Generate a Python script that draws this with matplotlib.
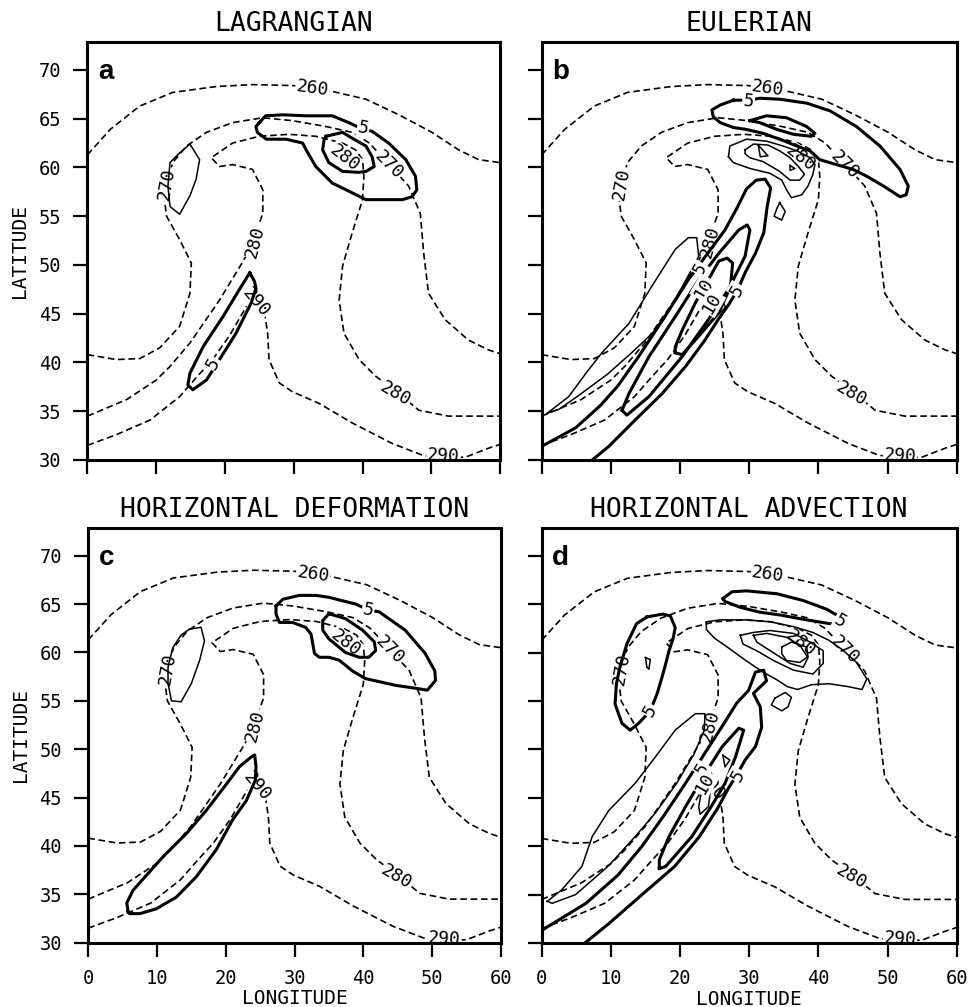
import matplotlib
matplotlib.use("Agg")
import matplotlib.pyplot as plt

plt.rcParams['font.family'] = ['DejaVu Sans Mono']

# ---------------- potential temperature contours (same in every panel), (lon, lat)
theta_260 = [(0.0, 61.3), (3.3, 63.9), (7.6, 66.3), (12.4, 67.7), (18.7, 68.3), (24.0, 68.5),
             (29.8, 68.4), (32.5, 68.2), (35.6, 67.8), (40.5, 67.0), (45.3, 65.4), (50.1, 63.6),
             (54.0, 61.8), (56.9, 60.8), (60.0, 60.5)]
theta_270 = [(0.0, 40.8), (4.2, 40.3), (7.6, 40.4), (10.5, 41.5), (13.4, 43.7), (14.9, 47.1),
             (15.1, 50.2), (13.4, 52.6), (11.5, 55.0), (11.2, 56.7), (11.6, 58.5), (12.4, 60.5),
             (14.4, 62.2), (17.3, 63.6), (21.1, 64.6), (25.5, 65.1), (29.8, 64.8), (34.7, 64.2),
             (38.5, 63.6), (41.0, 62.5), (44.0, 60.2), (46.7, 58.1), (48.4, 55.3), (48.9, 51.2),
             (49.6, 47.1), (52.0, 44.4), (55.4, 42.3), (58.3, 41.3), (60.0, 40.9)]
theta_280 = [(0.0, 34.5), (5.7, 36.2), (10.0, 38.2), (12.0, 39.6), (14.9, 42.0), (19.2, 46.4),
             (22.3, 50.0), (23.6, 51.6), (24.6, 53.5), (25.5, 55.3), (25.5, 57.7), (24.0, 59.8),
             (21.1, 60.3), (19.2, 60.1), (18.0, 61.0), (21.1, 62.5), (25.0, 63.2), (29.3, 63.4),
             (33.2, 63.2), (37.1, 62.5), (39.0, 61.8), (40.0, 60.8), (40.2, 59.1), (40.0, 56.7),
             (38.5, 53.3), (37.1, 49.9), (36.6, 46.4), (37.3, 43.0), (39.5, 40.3), (41.9, 38.6),
             (45.3, 36.8), (48.2, 35.1), (52.5, 34.5), (58.3, 34.5), (60.0, 34.5)]
theta_290 = [(0.0, 31.5), (4.2, 32.6), (9.1, 34.1), (13.4, 36.5), (16.0, 38.6), (18.2, 40.3),
             (20.7, 42.8), (22.5, 45.0), (23.8, 46.6), (25.6, 45.8), (26.2, 43.0), (26.4, 40.3),
             (27.9, 37.9), (29.8, 37.0), (33.7, 35.8), (38.5, 33.8), (44.3, 31.7), (48.7, 30.5),
             (51.5, 30.2), (55.0, 30.3), (58.3, 31.2), (60.0, 31.6)]
theta_lines = [theta_260, theta_270, theta_280, theta_290]
# label text, lon, lat, angle
theta_labels = [('260', 32.7, 68.1, -8), ('270', 11.5, 58.3, 80), ('270', 43.8, 60.3, -45),
                ('280', 24.3, 52.4, 75), ('280', 37.4, 61.0, -38), ('280', 44.8, 36.8, -30),
                ('290', 51.8, 30.4, -3), ('290', 24.5, 46.2, -50)]

# ---------------- frontogenesis contours, panel a (Lagrangian)
a_thick_top = [(25.0, 64.6), (25.9, 65.3), (28.4, 65.4), (31.8, 65.3), (35.6, 65.3), (38.0, 64.6),
               (39.5, 64.1), (41.4, 63.7), (43.8, 62.5), (46.3, 60.8), (47.7, 59.1), (47.9, 57.7),
               (47.2, 57.0), (45.8, 56.7), (42.9, 56.7), (40.5, 56.7), (38.5, 57.4), (35.6, 58.4),
               (33.2, 60.1), (31.8, 61.8), (31.3, 62.5), (28.9, 62.9), (26.0, 62.9), (24.7, 63.6),
               (24.5, 64.2), (25.0, 64.6)]
a_thick_inner = [(34.7, 63.2), (37.1, 63.6), (38.5, 63.0), (40.5, 62.2), (41.4, 61.1), (41.7, 60.1),
                 (40.5, 59.6), (39.5, 59.5), (37.1, 59.6), (35.1, 60.5), (34.2, 61.8), (34.4, 62.8),
                 (34.7, 63.2)]
a_thin_west = [(14.9, 62.4), (16.3, 60.8), (15.8, 58.8), (14.9, 57.1), (13.4, 55.2), (12.0, 56.0),
               (11.7, 58.1), (12.0, 60.5), (13.4, 61.5), (14.9, 62.4)]
a_thick_front = [(23.6, 49.2), (24.3, 48.3), (24.5, 47.6), (23.8, 46.1), (21.6, 43.0), (19.2, 40.3),
                 (17.3, 38.2), (15.3, 37.2), (14.6, 37.7), (14.9, 38.9), (16.8, 41.6), (19.7, 44.7),
                 (22.1, 47.5), (23.6, 49.2)]
a_thick = [a_thick_top, a_thick_inner, a_thick_front]
a_thin = [a_thin_west]
a_labels = [('5', 40.1, 64.0, -12), ('5', 18.2, 39.9, 60)]

# ---------------- panel b (Eulerian)
b_thick_top = [(27.7, 66.9), (25.8, 66.4), (24.6, 65.9), (24.8, 65.2), (25.8, 64.6), (27.7, 64.1),
               (29.6, 63.9), (32.0, 63.5), (34.4, 62.9), (36.9, 62.2), (38.8, 61.7), (40.2, 60.8),
               (42.6, 60.3), (45.0, 59.8), (47.0, 59.1), (49.4, 58.1), (51.8, 57.0), (52.7, 57.2),
               (53.0, 58.1), (51.8, 59.8), (48.9, 62.2), (45.5, 64.2), (41.7, 65.8), (38.3, 66.6),
               (34.4, 67.0), (31.5, 67.1), (29.9, 66.9), (27.7, 66.9)]
b_thick_top_inner = [(30.1, 64.8), (32.5, 65.3), (35.4, 65.1), (38.3, 64.2), (39.5, 63.5), (39.0, 63.2),
                     (36.4, 63.4), (34.0, 63.9), (31.5, 64.6), (30.1, 64.8)]
b_thin_top_outer = [(27.0, 61.1), (27.2, 62.2), (29.6, 62.9), (32.5, 62.7), (34.9, 62.2), (36.9, 61.7),
                    (38.8, 61.0), (39.5, 60.3), (39.2, 59.3), (38.5, 58.1), (37.6, 57.2), (36.1, 56.9),
                    (35.4, 57.7), (34.7, 58.7), (33.0, 59.4), (30.1, 59.9), (27.7, 60.5), (27.0, 61.1)]
b_thin_top_inner = [(29.4, 61.8), (30.6, 62.4), (32.7, 62.3), (34.4, 61.7), (35.9, 61.0), (37.1, 60.1),
                    (38.0, 59.3), (37.3, 58.7), (35.9, 58.7), (34.4, 59.6), (32.0, 60.6), (30.1, 61.0),
                    (29.4, 61.4), (29.4, 61.8)]
b_thin_tri = [(31.3, 62.3), (32.7, 61.2), (31.6, 61.1), (31.3, 62.3)]
b_thin_dot = [(35.9, 60.2), (36.6, 59.9), (35.9, 59.7), (35.9, 60.2)]
b_thin_isle = [(34.4, 56.4), (35.2, 55.5), (34.7, 54.6), (33.6, 55.0), (34.0, 55.8), (34.4, 56.4)]
b_thin_front = [(0.8, 34.8), (3.9, 36.5), (6.5, 39.0), (8.7, 41.0), (12.6, 44.0), (15.9, 47.8),
                (19.3, 51.6), (21.2, 52.8), (22.4, 52.8), (22.7, 50.9), (20.5, 48.0), (18.5, 45.5),
                (16.0, 43.0), (13.0, 41.0), (9.5, 38.8), (5.5, 36.7), (2.5, 35.2), (0.8, 34.8)]
b_thick_front = [(0.0, 31.4), (4.9, 33.3), (8.5, 35.6), (11.0, 37.6), (14.0, 40.6), (17.8, 44.7),
                 (21.2, 48.5), (24.0, 51.2), (26.5, 53.6), (28.2, 55.8), (29.6, 57.8), (31.0, 58.7),
                 (32.3, 58.8), (33.1, 57.9), (32.6, 56.0), (32.1, 53.3), (30.9, 51.2), (29.4, 49.2),
                 (28.3, 47.4), (27.0, 45.9), (25.6, 44.5), (23.6, 42.3), (20.8, 39.6), (17.4, 36.8),
                 (13.5, 34.1), (9.7, 31.4), (7.3, 30.0)]
b_thick_front10 = [(11.6, 35.1), (12.3, 34.6), (15.5, 36.5), (20.3, 40.6), (24.1, 44.4), (27.0, 47.5),
                   (29.4, 50.9), (30.1, 53.6), (29.7, 54.1), (28.5, 53.6), (25.6, 51.2), (22.7, 48.5),
                   (19.3, 44.7), (15.5, 40.6), (12.6, 36.8), (11.6, 35.1)]
b_thick_front15 = [(19.3, 41.0), (20.3, 40.8), (22.7, 42.7), (25.6, 45.1), (27.3, 47.8), (27.6, 50.2),
                   (26.8, 50.7), (25.6, 50.4), (24.1, 48.5), (22.2, 46.1), (20.3, 43.3), (19.3, 41.6),
                   (19.3, 41.0)]
b_thick = [b_thick_top, b_thick_top_inner, b_thick_front, b_thick_front10, b_thick_front15]
b_thin = [b_thin_top_outer, b_thin_top_inner, b_thin_tri, b_thin_dot, b_thin_isle, b_thin_front]
b_labels = [('5', 29.9, 66.8, -5), ('5', 28.3, 47.4, 60), ('5', 22.9, 49.6, 60),
            ('10', 23.4, 47.6, 60), ('10', 24.6, 46.1, 60)]

# ---------------- panel c (horizontal deformation)
c_thick_top = [(27.3, 64.8), (28.3, 65.5), (30.7, 65.9), (33.1, 65.9), (35.0, 65.7), (38.9, 65.0),
               (40.7, 64.4), (42.3, 64.2), (46.1, 62.3), (49.0, 59.9), (50.4, 58.1), (50.5, 57.1),
               (49.3, 56.1), (47.6, 56.3), (44.7, 56.6), (40.3, 57.3), (38.4, 58.1), (36.5, 59.2),
               (35.0, 59.5), (33.6, 59.5), (32.9, 59.9), (32.4, 61.9), (31.6, 62.6), (29.7, 63.1),
               (27.8, 63.1), (27.3, 64.0), (27.3, 64.8)]
c_thick_inner = [(35.0, 64.0), (37.4, 63.5), (39.9, 62.3), (41.6, 61.1), (41.8, 60.2), (40.8, 59.5),
                 (39.4, 59.5), (37.4, 60.0), (35.0, 61.4), (34.1, 62.3), (34.1, 63.3), (35.0, 64.0)]
c_thin_west = [(14.7, 62.4), (16.4, 62.6), (16.9, 61.2), (16.2, 59.2), (15.0, 56.8), (13.5, 54.9),
               (12.1, 55.0), (11.6, 56.8), (11.6, 58.5), (12.3, 60.5), (13.5, 61.8), (14.7, 62.4)]
c_thick_front = [(5.8, 33.2), (5.6, 34.1), (6.5, 35.4), (8.0, 36.6), (10.9, 38.9), (14.3, 41.3),
                 (17.2, 43.7), (20.1, 46.4), (22.0, 48.2), (23.7, 49.2), (24.2, 49.4), (24.4, 48.2),
                 (24.3, 46.8), (23.0, 44.7), (21.0, 42.7), (18.6, 39.6), (15.7, 36.8), (12.8, 34.7),
                 (9.9, 33.5), (7.5, 33.0), (6.0, 33.0), (5.8, 33.2)]
c_thick = [c_thick_top, c_thick_inner, c_thick_front]
c_thin = [c_thin_west]
c_labels = [('5', 40.7, 64.4, -12)]

# ---------------- panel d (horizontal advection)
d_thick_top = [(26.2, 65.6), (27.5, 66.3), (29.6, 66.4), (34.0, 66.1), (37.8, 65.4), (41.2, 64.5),
               (42.9, 63.8), (43.1, 63.0), (41.7, 63.0), (38.3, 63.4), (34.5, 63.9), (31.5, 64.2),
               (28.7, 64.7), (26.5, 65.3), (26.2, 65.6)]
d_thick_west = [(15.2, 63.7), (17.5, 64.0), (18.6, 63.8), (19.3, 62.6), (19.0, 61.5), (18.4, 60.2),
                (17.9, 58.8), (17.4, 57.5), (16.7, 55.8), (15.7, 54.0), (14.0, 52.7), (12.8, 52.0),
                (11.6, 52.7), (10.6, 54.7), (10.8, 56.8), (11.3, 58.5), (12.3, 60.9), (13.7, 63.0),
                (15.2, 63.7)]
d_thin_top1 = [(23.8, 63.2), (25.8, 63.4), (29.6, 63.4), (33.0, 63.2), (36.4, 62.7), (39.2, 62.1),
               (41.5, 61.3), (43.5, 60.3), (45.5, 59.0), (47.0, 57.3), (46.3, 56.2), (44.3, 56.5),
               (41.5, 56.8), (39.0, 56.7), (37.0, 56.2), (35.5, 56.5), (34.0, 57.2), (32.0, 58.0),
               (29.5, 59.2), (27.0, 60.5), (25.0, 61.5), (23.8, 62.4), (23.8, 63.2)]
d_thin_top2 = [(28.7, 61.8), (30.6, 62.1), (33.0, 62.3), (36.4, 62.0), (38.8, 61.1), (40.7, 60.2),
               (40.7, 58.9), (39.2, 57.8), (36.4, 58.2), (33.5, 59.2), (31.1, 60.2), (29.1, 60.9),
               (28.7, 61.8)]
d_thin_top3 = [(30.6, 61.8), (32.5, 62.0), (35.4, 61.6), (37.3, 60.8), (38.5, 59.5), (37.8, 58.5),
               (35.9, 58.9), (33.5, 60.0), (31.1, 61.1), (30.6, 61.8)]
d_thin_top4 = [(34.7, 60.6), (36.1, 61.1), (38.3, 60.6), (38.5, 59.6), (37.3, 59.0), (35.4, 59.2),
               (34.7, 59.9), (34.7, 60.6)]
d_thin_isle = [(33.7, 55.3), (35.2, 55.9), (36.1, 55.4), (35.6, 54.4), (34.7, 54.0), (33.2, 54.6),
               (33.7, 55.3)]
d_thin_dot = [(15.0, 59.5), (15.7, 59.3), (15.5, 58.3), (15.2, 58.5), (15.0, 59.5)]
d_thin_front = [(0.8, 34.3), (2.9, 35.5), (5.8, 37.9), (7.3, 41.0), (9.7, 43.7), (13.5, 46.5),
                (16.4, 49.2), (19.3, 52.0), (22.2, 53.7), (23.6, 53.7), (23.5, 52.0), (22.0, 49.5),
                (19.5, 46.5), (16.5, 43.5), (13.5, 41.0), (9.7, 38.0), (4.9, 35.0), (1.5, 34.1),
                (0.8, 34.3)]
d_thin_tri = [(26.2, 49.4), (27.2, 48.9), (26.5, 48.2), (26.2, 49.4)]
d_thin_small = [(23.2, 46.1), (24.4, 45.8), (24.1, 44.1), (22.9, 43.3), (22.7, 44.1), (23.2, 46.1)]
d_thick_front = [(0.0, 31.3), (6.4, 34.1), (11.0, 37.0), (14.5, 40.0), (17.5, 43.0), (20.5, 46.2),
                 (23.3, 49.3), (26.0, 52.3), (28.2, 54.8), (29.9, 56.1), (30.9, 58.0), (32.1, 58.2),
                 (32.5, 57.1), (30.6, 55.8), (31.6, 54.4), (31.8, 52.3), (30.9, 50.3), (29.4, 48.9),
                 (28.3, 47.5), (27.0, 46.0), (25.5, 44.0), (22.8, 41.0), (19.2, 37.9), (14.5, 35.0),
                 (9.7, 32.0), (5.9, 29.8)]
d_thick_front10 = [(17.0, 37.7), (17.9, 37.9), (21.7, 41.0), (24.5, 44.1), (26.5, 46.5), (28.0, 49.2),
                   (29.2, 52.0), (28.5, 52.2), (26.1, 50.3), (23.6, 47.5), (20.8, 44.1), (18.4, 41.0),
                   (17.0, 38.6), (17.0, 37.7)]
d_thick = [d_thick_top, d_thick_west, d_thick_front, d_thick_front10]
d_thin = [d_thin_top1, d_thin_top2, d_thin_top3, d_thin_top4, d_thin_isle, d_thin_dot,
          d_thin_front, d_thin_tri, d_thin_small]
d_labels = [('5', 43.1, 63.2, -30), ('5', 15.7, 54.0, 60), ('5', 28.4, 47.3, 60),
            ('5', 23.2, 48.0, 60), ('10', 23.6, 46.5, 60)]

titles = ['LAGRANGIAN', 'EULERIAN', 'HORIZONTAL DEFORMATION', 'HORIZONTAL ADVECTION']
letters = ['a', 'b', 'c', 'd']
lon_ticks = [0, 10, 20, 30, 40, 50, 60]
lat_ticks = [30, 35, 40, 45, 50, 55, 60, 65, 70]

panels = [(a_thick, a_thin, a_labels), (b_thick, b_thin, b_labels),
          (c_thick, c_thin, c_labels), (d_thick, d_thin, d_labels)]
positions = [[0.0902, 0.5432, 0.4253, 0.4154], [0.5585, 0.5432, 0.4278, 0.4154],
             [0.0910, 0.0639, 0.4253, 0.4121], [0.5585, 0.0636, 0.4278, 0.4121]]

fig = plt.figure(figsize=(9.7, 10.07), dpi=100)
DASH = (0, (4.0, 2.2))


def draw_path(ax, pts, z, **kw):
    xs = [p[0] for p in pts]
    ys = [p[1] for p in pts]
    ax.plot(xs, ys, color='black', solid_joinstyle='round', zorder=z, **kw)


def put_label(ax, txt, x, y, rot, z):
    ax.text(x, y, txt, rotation=rot, ha='center', va='center', fontsize=13,
            rotation_mode='anchor', clip_on=True, zorder=z,
            bbox=dict(boxstyle='square,pad=0.05', fc='white', ec='none'))


for i, (thick, thin, labels) in enumerate(panels):
    ax = fig.add_axes(positions[i])
    ax.set_xlim(0, 60)
    ax.set_ylim(30, 72.9)
    for line in theta_lines:
        draw_path(ax, line, 2, lw=1.2, linestyle=DASH)
    for txt, x, y, r in theta_labels:
        put_label(ax, txt, x, y, r, 3)
    for line in thin:
        draw_path(ax, line, 4, lw=1.1)
    for line in thick:
        draw_path(ax, line, 4, lw=2.2)
    for txt, x, y, r in labels:
        put_label(ax, txt, x, y, r, 5)

    ax.set_xticks(lon_ticks)
    ax.set_yticks(lat_ticks)
    ax.tick_params(direction='out', length=10, width=1.6, pad=9, labelsize=13.5)
    for sp in ax.spines.values():
        sp.set_linewidth(2.2)
        sp.set_zorder(6)
    if i < 2:
        ax.set_xticklabels([])
    else:
        ax.set_xlabel('LONGITUDE', fontsize=14, labelpad=1)
    if i % 2 == 1:
        ax.set_yticklabels([])
    else:
        ax.set_ylabel('LATITUDE', fontsize=14, labelpad=7)
    ax.set_title(titles[i], fontsize=19, pad=8)
    ax.text(0.025, 0.91, letters[i], transform=ax.transAxes, fontsize=20,
            fontweight='bold', family=['Liberation Sans', 'DejaVu Sans'], va='baseline')

fig.savefig('out.png', dpi=100)
